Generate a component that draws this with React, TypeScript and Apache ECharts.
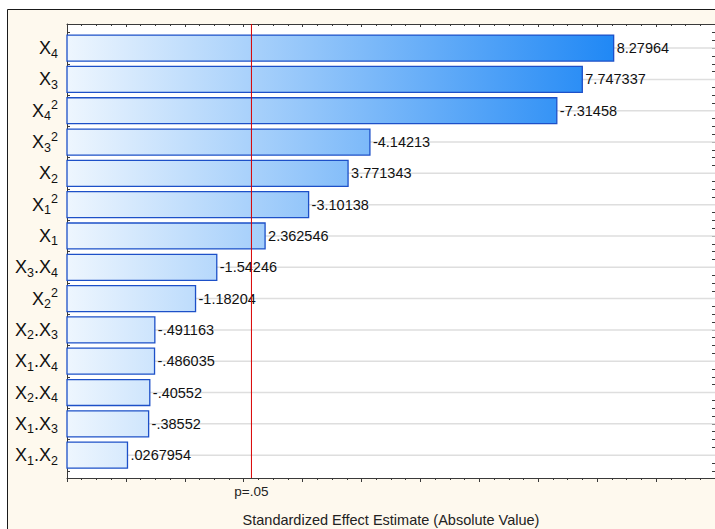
import React, { useEffect, useRef } from "react";
import * as echarts from "echarts";

// Effects, ordered from largest to smallest absolute value (top to bottom)
const termLabels = [
  "{x|X}{s|4}",
  "{x|X}{s|3}",
  "{x|X}{s|4}{p|2}",
  "{x|X}{s|3}{p|2}",
  "{x|X}{s|2}",
  "{x|X}{s|1}{p|2}",
  "{x|X}{s|1}",
  "{x|X}{s|3}{x|.X}{s|4}",
  "{x|X}{s|2}{p|2}",
  "{x|X}{s|2}{x|.X}{s|3}",
  "{x|X}{s|1}{x|.X}{s|4}",
  "{x|X}{s|2}{x|.X}{s|4}",
  "{x|X}{s|1}{x|.X}{s|3}",
  "{x|X}{s|1}{x|.X}{s|2}",
];

const effectEstimates = [
  8.27964, 7.747337, -7.31458, -4.14213, 3.771343, -3.10138, 2.362546,
  -1.54246, -1.18204, -0.491163, -0.486035, -0.40552, -0.38552, 0.0267954,
];

// Critical t value for p = .05
const pCritical = 2.131;
const pLabel = "p=.05";

const xMin = -1;
const xMax = 10;
const yMin = -0.77;
const yMax = 13.73;

const FONT = "'Liberation Sans', Arial, Helvetica, sans-serif";

function formatEffect(v: number): string {
  const s = String(v);
  return s.replace(/^(-?)0\./, "$1.");
}

export default function App() {
  const ref = useRef<HTMLDivElement | null>(null);

  useEffect(() => {
    if (!ref.current) return;
    const chart = echarts.init(ref.current, undefined, { renderer: "svg" });

    const rows = effectEstimates.map((v, i) => [Math.abs(v), i, v]);
    const maxAbs = Math.max(...effectEstimates.map((v) => Math.abs(v)));

    const quarterTicks: number[] = [];
    for (let i = -3; i <= 54; i++) quarterTicks.push(i * 0.25);
    const rowTicks = quarterTicks.filter((t) => t >= yMin && t <= yMax);
    const labelTicks = termLabels.map((_, i) => i);

    const yAxisBase = {
      type: "value" as const,
      min: yMin,
      max: yMax,
      inverse: true,
      gridIndex: 0,
      splitLine: { show: false },
      axisLine: { show: true, onZero: false, lineStyle: { color: "#3a3a3a", width: 1 } },
      axisTick: {
        show: true,
        inside: true,
        length: 3,
        customValues: rowTicks,
        lineStyle: { color: "#3a3a3a", width: 1 },
      },
    };

    const xAxisBase = {
      type: "value" as const,
      min: xMin,
      max: xMax,
      interval: 1,
      gridIndex: 0,
      splitLine: { show: false },
      axisLine: { show: true, onZero: false, lineStyle: { color: "#3a3a3a", width: 1 } },
      minorTick: { show: true, splitNumber: 4, length: 2, lineStyle: { color: "#3a3a3a" } },
      minorSplitLine: { show: false },
    };

    chart.setOption({
      animation: false,
      backgroundColor: "#ffffff",
      graphic: [
        {
          type: "rect",
          z: -10,
          silent: true,
          shape: { x: 7.5, y: 9.5, width: 720, height: 530 },
          style: { fill: "#fef9ee", stroke: "#1a1a1a", lineWidth: 1 },
        },
      ],
      grid: {
        left: 67,
        top: 24,
        right: 0,
        bottom: 51,
        show: true,
        backgroundColor: "#ffffff",
        borderWidth: 0,
        containLabel: false,
        outerBoundsMode: "none",
      },
      xAxis: [
        {
          ...xAxisBase,
          position: "bottom",
          name: "Standardized Effect Estimate (Absolute Value)",
          nameLocation: "middle",
          nameGap: 34,
          nameTextStyle: { fontFamily: FONT, fontSize: 14.5, color: "#222" },
          axisTick: { show: true, length: 4, inside: false, lineStyle: { color: "#3a3a3a" } },
          axisLabel: {
            show: true,
            customValues: [pCritical],
            formatter: () => pLabel,
            margin: 6,
            fontFamily: FONT,
            fontSize: 13.5,
            color: "#222",
          },
        },
        {
          ...xAxisBase,
          position: "top",
          axisTick: { show: true, length: 3, inside: true, lineStyle: { color: "#3a3a3a" } },
          axisLabel: { show: false },
        },
      ],
      yAxis: [
        {
          ...yAxisBase,
          position: "left",
          axisLabel: {
            show: true,
            customValues: labelTicks,
            margin: 9,
            formatter: (v: number) => termLabels[Math.round(v)] ?? "",
            rich: {
              x: { fontFamily: FONT, fontSize: 18, lineHeight: 24, color: "#111" },
              s: { fontFamily: FONT, fontSize: 12.5, lineHeight: 15, color: "#111", verticalAlign: "bottom" },
              p: { fontFamily: FONT, fontSize: 12.5, lineHeight: 15, color: "#111", verticalAlign: "top" },
            },
          },
        },
        {
          ...yAxisBase,
          position: "right",
          axisLabel: { show: false },
          axisLine: { show: true, onZero: false, lineStyle: { color: "#3a3a3a", width: 1, type: "dotted" } },
        },
      ],
      series: [
        {
          type: "custom",
          xAxisIndex: 0,
          yAxisIndex: 0,
          encode: { x: 0, y: 1 },
          data: rows,
          z: 2,
          renderItem: (params: any, api: any) => {
            const len = api.value(0);
            const idx = api.value(1);
            const signed = api.value(2);
            const yc = api.coord([0, idx])[1];
            const x0 = api.coord([xMin, idx])[0];
            const x1 = api.coord([len, idx])[0];
            const xEnd = api.coord([xMax, idx])[0];
            const gradEnd = api.coord([maxAbs, idx])[0];
            const band = api.size([0, 1])[1];
            const h = band * 0.83;
            const fill = new echarts.graphic.LinearGradient(
              x0,
              0,
              gradEnd,
              0,
              [
                { offset: 0, color: "#eef6fe" },
                { offset: 1, color: "#2088f5" },
              ],
              true
            );
            return {
              type: "group",
              children: [
                {
                  type: "line",
                  silent: true,
                  shape: { x1: x0, y1: yc, x2: xEnd, y2: yc },
                  style: { stroke: "#dedede", lineWidth: 1.5 },
                },
                {
                  type: "rect",
                  shape: { x: x0, y: yc - h / 2, width: x1 - x0, height: h },
                  style: { fill, stroke: "#1d50c8", lineWidth: 1.3 },
                },
                {
                  type: "text",
                  x: x1 + 3,
                  y: yc,
                  style: {
                    text: formatEffect(signed),
                    fontFamily: FONT,
                    fontSize: 14.5,
                    fill: "#111",
                    verticalAlign: "middle",
                    align: "left",
                  },
                },
              ],
            };
          },
        },
        {
          // significance threshold line
          type: "custom",
          xAxisIndex: 0,
          yAxisIndex: 0,
          encode: { x: 0 },
          data: [[pCritical]],
          z: 5,
          silent: true,
          renderItem: (params: any, api: any) => {
            const x = api.coord([api.value(0), 0])[0];
            const top = api.coord([xMin, yMin])[1];
            const bottom = api.coord([xMin, yMax])[1];
            return {
              type: "line",
              shape: { x1: x, y1: top, x2: x, y2: bottom },
              style: { stroke: "#d80000", lineWidth: 1 },
            };
          },
        },
      ],
    });

    return () => chart.dispose();
  }, []);

  return (
    <div
      ref={ref}
      style={{ position: "absolute", left: 0, top: 0, width: 715, height: 529 }}
    />
  );
}
